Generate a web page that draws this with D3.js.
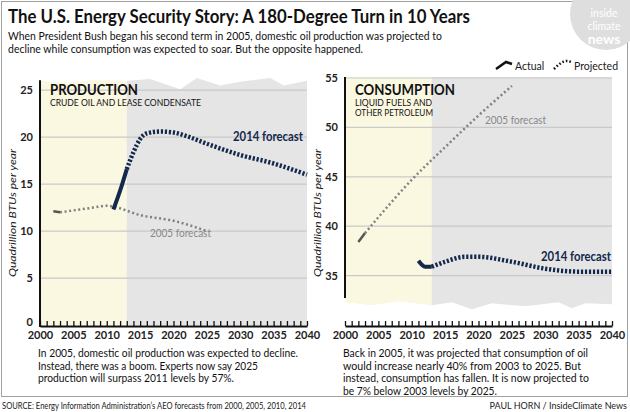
<!DOCTYPE html>
<html>
<head>
<meta charset="utf-8">
<script src="https://cdn.jsdelivr.net/npm/d3@7"></script>
<style>
  body { margin: 0; background: #fff; }
  text { font-family: "Lato", "Open Sans", sans-serif; }
  .narrow { font-family: "Liberation Sans Narrow", "Lato", sans-serif; }
</style>
</head>
<body>
<div id="visualization"></div>
<script>
// production, quadrillion BTUs
var prodTicks = [0, 5, 10, 15, 20, 25];
var prod05Years = [2002, 2003, 2005, 2008, 2010, 2011, 2015, 2020, 2025];
var prod05 = [12.1, 12.0, 12.2, 12.5, 12.7, 12.6, 11.7, 11.1, 10.0];
var prodActYears = [2011, 2012, 2013];
var prodAct = [12.3, 14.3, 16.6];
var prod14Years = [2013, 2014, 2015, 2016, 2018, 2020, 2022, 2025, 2030, 2035, 2040];
var prod14 = [16.6, 18.4, 19.8, 20.4, 20.6, 20.5, 20.1, 19.3, 18.1, 17.2, 16.0];

// consumption, quadrillion BTUs
var consTicks = [35, 40, 45, 50, 55];
var cons05Years = [2002, 2003, 2005, 2010, 2015, 2020, 2025];
var cons05 = [38.4, 39.3, 40.9, 44.7, 48.0, 51.2, 54.2];
var consActYears = [2011, 2012, 2013];
var consAct = [36.5, 35.9, 35.9];
var cons14Years = [2013, 2015, 2018, 2020, 2025, 2030, 2035, 2040];
var cons14 = [35.9, 36.4, 36.9, 36.9, 36.4, 35.7, 35.4, 35.4];

// torn paper edges of the shaded panels (year, value)
var prodTopEdge = [[2000, 26.0], [2004, 25.8], [2008, 26.1], [2013, 26.0], [2016.5, 26.2], [2021, 25.1],
                   [2023.5, 26.3], [2027, 25.5], [2030, 25.9], [2034.5, 26.3], [2036.5, 25.5], [2040, 26.0]];
var consBottomEdge = [[2000, 32.3], [2004, 32.0], [2008, 32.4], [2013, 32.0], [2016, 32.3], [2019, 31.6],
                      [2022, 32.2], [2027, 31.9], [2032, 32.3], [2034, 31.7], [2036, 32.2], [2040, 32.1]];

var navy = "#13284c", grayLine = "#808080", yellow = "#fbf8e2", shade = "#e5e5e5", grid = "#c9c9c9";

var svg = d3.select("#visualization").append("svg")
            .attr("width", 630)
            .attr("height", 412);

// frame
svg.append("rect")
   .attr("x", 1.5).attr("y", 1.5)
   .attr("width", 626).attr("height", 395)
   .attr("fill", "none")
   .attr("stroke", "#a0a0a0");

// logo
svg.append("circle")
   .attr("cx", 606).attr("cy", 14).attr("r", 36)
   .attr("fill", "#dedede");
var logo = svg.append("g").attr("fill", "#fff").attr("text-anchor", "middle");
logo.append("text").attr("x", 604).attr("y", 17).attr("font-size", 10.5).text("inside");
logo.append("text").attr("x", 604).attr("y", 29.5).attr("font-size", 10.5).text("climate");
logo.append("text").attr("x", 604).attr("y", 44).attr("font-size", 14).attr("font-weight", 700).text("news");

function fit(sel, w) {
  sel.attr("textLength", w).attr("lengthAdjust", "spacingAndGlyphs");
}

// title block
svg.append("text").attr("class", "narrow")
   .attr("x", 8).attr("y", 23)
   .attr("font-size", 19).attr("font-weight", 700).attr("fill", "#111")
   .text("The U.S. Energy Security Story: A 180-Degree Turn in 10 Years")
   .call(fit, 462);
svg.append("text")
   .attr("x", 8).attr("y", 40)
   .attr("font-size", 11.5).attr("fill", "#111")
   .text("When President Bush began his second term in 2005, domestic oil production was projected to")
   .call(fit, 434);
svg.append("text")
   .attr("x", 8).attr("y", 53)
   .attr("font-size", 11.5).attr("fill", "#111")
   .text("decline while consumption was expected to soar. But the opposite happened.")
   .call(fit, 355);

function panel(opt) {
  var g = svg.append("g");
  var x = d3.scaleLinear().domain([2000, 2040]).range([opt.left, opt.left + 267]);
  var y = d3.scaleLinear().domain(opt.domain).range([325, 78]);

  // shaded background: yellow up to 2013, gray after, with a torn edge
  var edge = opt.topEdge || opt.bottomEdge;
  var base = opt.topEdge ? y(opt.domain[0]) : y(55.1);
  var area = d3.area().x(d => x(d[0])).y0(base).y1(d => y(d[1]));
  g.append("path").datum(edge.filter(d => d[0] <= 2013)).attr("d", area).attr("fill", yellow);
  g.append("path").datum(edge.filter(d => d[0] >= 2013)).attr("d", area).attr("fill", shade);

  // gridlines
  g.selectAll(".grid")
   .data(opt.ticks.filter(d => d > opt.domain[0]))
   .enter().append("line")
   .attr("x1", x(2000)).attr("x2", x(2040))
   .attr("y1", d => y(d)).attr("y2", d => y(d))
   .attr("stroke", grid).attr("stroke-width", 1.2);

  // y axis labels
  var yAxis = d3.axisLeft(y).tickValues(opt.ticks).tickSize(0).tickPadding(7);
  var ya = g.append("g").attr("transform", "translate(" + x(2000) + ",0)").call(yAxis);
  ya.select(".domain").remove();
  ya.selectAll("text").attr("font-family", "Lato").attr("font-size", 11)
    .attr("font-weight", 700).attr("fill", "#222")
    .attr("dy", d => d === opt.domain[0] ? "0.05em" : "0.32em");
  g.append("line")
   .attr("x1", x(2000)).attr("x2", x(2000))
   .attr("y1", y(opt.axisTop)).attr("y2", opt.axisBottom)
   .attr("stroke", "#111").attr("stroke-width", 2);

  // x axis
  var xAxis = d3.axisBottom(x).tickValues(d3.range(2000, 2041)).tickSizeInner(-5).tickSizeOuter(0)
                .tickPadding(5)
                .tickFormat(d => d % 5 === 0 ? d : "");
  var xa = g.append("g").attr("transform", "translate(0,326)").call(xAxis);
  xa.select(".domain").attr("stroke", "#111").attr("stroke-width", 2);
  xa.selectAll(".tick line").attr("stroke", "#111").attr("stroke-width", 1.3);
  xa.selectAll("text").attr("font-family", "Lato").attr("font-size", 11)
    .attr("font-weight", 700).attr("fill", "#222");

  // axis title
  g.append("text")
   .attr("transform", "translate(" + (opt.left - 24) + ",213) rotate(-90)")
   .attr("text-anchor", "middle")
   .attr("font-size", 10).attr("font-style", "italic").attr("fill", "#222")
   .text("Quadrillion BTUs per year")
   .call(fit, 128);

  var line = d3.line().x(d => x(d[0])).y(d => y(d[1])).curve(d3.curveMonotoneX);

  // 2005 forecast: short actual piece then dotted projection
  var f05 = d3.zip(opt.f05Years, opt.f05);
  g.append("path").datum(f05.slice(0, 2)).attr("d", line)
   .attr("fill", "none").attr("stroke", "#555").attr("stroke-width", 2.5);
  g.append("path").datum(f05.slice(1)).attr("d", line)
   .attr("fill", "none").attr("stroke", grayLine).attr("stroke-width", 2.5)
   .attr("stroke-dasharray", "2,2.6");

  // 2014 forecast: actual solid, projection dotted
  g.append("path").datum(d3.zip(opt.actYears, opt.act)).attr("d", line)
   .attr("fill", "none").attr("stroke", navy).attr("stroke-width", 4);
  g.append("path").datum(d3.zip(opt.f14Years, opt.f14)).attr("d", line)
   .attr("fill", "none").attr("stroke", navy).attr("stroke-width", 4.5)
   .attr("stroke-dasharray", "2.2,1.8");

  // labels
  g.append("text").attr("class", "narrow").attr("x", opt.left + 10).attr("y", 94.5)
   .attr("font-size", 16).attr("font-weight", 700).attr("fill", "#111")
   .text(opt.name).call(fit, opt.nameW);
  opt.sub.forEach(function(s, i) {
    g.append("text").attr("x", opt.left + 10).attr("y", 106 + i * 9.5)
     .attr("font-size", 8.5).attr("fill", "#111")
     .text(s).call(fit, opt.subW[i]);
  });
  g.append("text").attr("x", opt.l05[0]).attr("y", opt.l05[1])
   .attr("font-size", 11).attr("fill", "#888")
   .text("2005 forecast").call(fit, 61);
  g.append("text").attr("x", opt.l14[0]).attr("y", opt.l14[1])
   .attr("font-size", 12.5).attr("font-weight", 700).attr("fill", navy)
   .text("2014 forecast").call(fit, 70);

  // note below
  opt.note.forEach(function(s, i) {
    g.append("text").attr("x", opt.left - 2).attr("y", 357 + i * 12.5)
     .attr("font-size", 11).attr("fill", "#111")
     .text(s).call(fit, opt.noteW[i]);
  });
}

panel({
  left: 40, domain: [0, 26.3], ticks: prodTicks, topEdge: prodTopEdge,
  axisTop: 26.05, axisBottom: 327,
  f05Years: prod05Years, f05: prod05, actYears: prodActYears, act: prodAct,
  f14Years: prod14Years, f14: prod14,
  name: "PRODUCTION", nameW: 88, sub: ["CRUDE OIL AND LEASE CONDENSATE"], subW: [151],
  l05: [150, 237], l14: [233, 141],
  note: ["In 2005, domestic oil production was expected to decline.",
         "Instead, there was a boom. Experts now say 2025",
         "production will surpass 2011 levels by 57%."],
  noteW: [260, 220, 196]
});

panel({
  left: 345, domain: [30, 55], ticks: consTicks, bottomEdge: consBottomEdge,
  axisTop: 55.1, axisBottom: 298,
  f05Years: cons05Years, f05: cons05, actYears: consActYears, act: consAct,
  f14Years: cons14Years, f14: cons14,
  name: "CONSUMPTION", nameW: 100, sub: ["LIQUID FUELS AND", "OTHER PETROLEUM"], subW: [77, 78],
  l05: [485, 124], l14: [541, 261],
  note: ["Back in 2005, it was projected that consumption of oil",
         "would increase nearly 40% from 2003 to 2025. But",
         "instead, consumption has fallen. It is now projected to",
         "be 7% below 2003 levels by 2025."],
  noteW: [245, 238, 246, 154]
});

// legend
var leg = svg.append("g");
leg.append("path").attr("d", d3.line()([[496, 69], [506, 62], [512, 64]]))
   .attr("fill", "none").attr("stroke", "#111").attr("stroke-width", 2.5);
leg.append("text").attr("x", 515).attr("y", 70).attr("font-size", 10.5).attr("fill", "#222").text("Actual");
leg.append("path").attr("d", d3.line().curve(d3.curveMonotoneX)([[554, 69], [561, 63], [567, 61], [571, 62]]))
   .attr("fill", "none").attr("stroke", "#111").attr("stroke-width", 2.5).attr("stroke-dasharray", "1.6,2");
leg.append("text").attr("x", 574).attr("y", 70).attr("font-size", 10.5).attr("fill", "#222").text("Projected");

// footer
svg.append("text").attr("x", 2).attr("y", 409).attr("font-size", 9).attr("fill", "#222")
   .text("SOURCE: Energy Information Administration\u2019s AEO forecasts from 2000, 2005, 2010, 2014")
   .call(fit, 304);
svg.append("text").attr("x", 627).attr("y", 409).attr("font-size", 9).attr("fill", "#222")
   .attr("text-anchor", "end")
   .text("PAUL HORN / InsideClimate News");
</script>
</body>
</html>
